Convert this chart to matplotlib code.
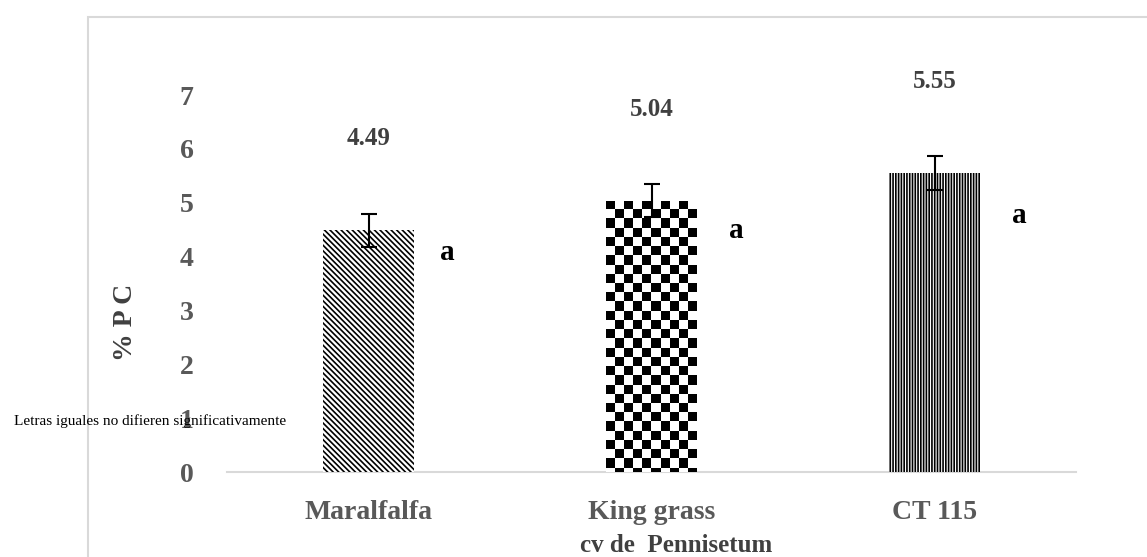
import numpy as np
import matplotlib
matplotlib.use("Agg")
import matplotlib.pyplot as plt
from matplotlib.patches import Rectangle

# ---- data ----
categories = ["Maralfalfa", "King grass", "CT 115"]
values = [4.49, 5.04, 5.55]
errors = [0.31, 0.30, 0.31]
letters = ["a", "a", "a"]
value_labels = ["4.49", "5.04", "5.55"]
yticks = [0, 1, 2, 3, 4, 5, 6, 7]
xlabel = "cv de  Pennisetum"
ylabel = "% P C"
note = "Letras iguales no difieren significativamente"

plt.rcParams["font.family"] = ["Liberation Serif", "DejaVu Serif"]
plt.rcParams["hatch.linewidth"] = 1.2

W, H = 1147, 557
fig = plt.figure(figsize=(W / 100, H / 100), dpi=100)
ax = fig.add_axes([227 / W, 1 - 472 / H, (1076 - 227) / W, (472 - 41.2) / H])

# outer frame
fig.patches.append(Rectangle((88 / W, -0.05), 1.2, 1 - 17 / H + 0.05,
                             transform=fig.transFigure, fill=False,
                             edgecolor="#d9d9d9", linewidth=1.5, zorder=0))

x = np.arange(len(categories))
bw = 0.32
bars = ax.bar(x, values, width=bw, color="white", edgecolor="black",
              linewidth=0, zorder=2)
bars[0].set_hatch("\\" * 6)
bars[2].set_hatch("|" * 6)

# checkerboard for King grass
b = bars[1]
cols = 10
sq_y = 0.171
rows = int(np.ceil(b.get_height() / sq_y))
checker = ((np.indices((rows, cols)).sum(axis=0) + 1) % 2).astype(float)
x0 = b.get_x()
im = ax.imshow(checker, cmap="gray_r", interpolation="nearest", aspect="auto",
               origin="upper",
               extent=(x0, x0 + b.get_width(), b.get_height() - rows * sq_y, b.get_height()),
               zorder=2.5, vmin=0, vmax=1)
im.set_clip_path(b)

ax.errorbar(x, values, yerr=errors, fmt="none", ecolor="black",
            elinewidth=1.5, capsize=6, capthick=1.5, zorder=3)

for xi, v, lab in zip(x, values, value_labels):
    ax.text(xi, v + 1.7, lab, ha="center", va="center", fontsize=18,
            fontweight="bold", color="#404040")

letter_dx = [0.28, 0.30, 0.30]
letter_dy = [-0.42, -0.55, -0.78]
for xi, v, l, dx, dy in zip(x, values, letters, letter_dx, letter_dy):
    ax.text(xi + dx, v + dy, l, ha="center", va="center", fontsize=21,
            fontweight="bold", color="black")

ax.set_xlim(-0.5, 2.5)
ax.set_ylim(0, 8)
ax.set_yticks(yticks)
ax.set_yticklabels([str(t) for t in yticks])
ax.set_xticks(x)
ax.set_xticklabels(categories)
ax.tick_params(axis="both", length=0, labelsize=20, labelcolor="#595959")
ax.tick_params(axis="y", pad=24)
ax.tick_params(axis="x", pad=20)
for t in ax.get_xticklabels() + ax.get_yticklabels():
    t.set_fontweight("bold")

for s in ["top", "right", "left"]:
    ax.spines[s].set_visible(False)
ax.spines["bottom"].set_color("#d9d9d9")
ax.spines["bottom"].set_linewidth(1.5)
ax.spines["bottom"].set_zorder(1)

fig.text(676 / W, 1 - 545 / H, xlabel, ha="center", va="center", fontsize=18,
         fontweight="bold", color="#404040")
fig.text(125 / W, 1 - 322 / H, ylabel, ha="center", va="center", fontsize=20,
         fontweight="bold", color="#404040", rotation=90)
fig.text(150 / W, 1 - 421 / H, note, ha="center", va="center", fontsize=11,
         color="black")

fig.savefig("out.png", dpi=100)
